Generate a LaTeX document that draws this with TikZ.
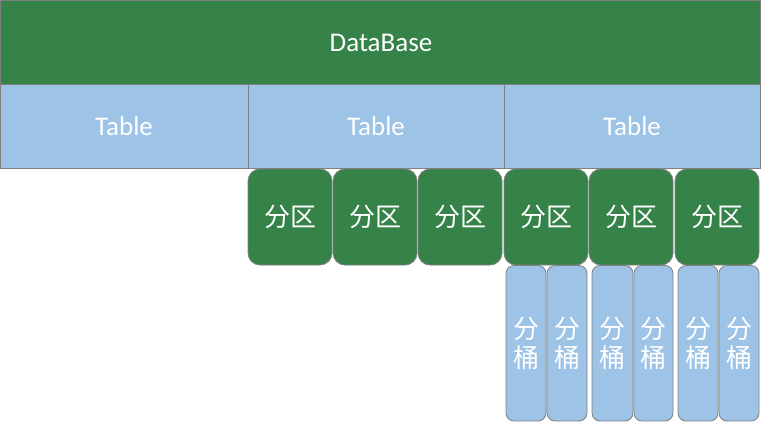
\documentclass[tikz,border=0pt]{standalone}
\usepackage{fontspec}
\setmainfont{Carlito}
\newfontfamily\cjk{Noto Sans CJK SC}
\definecolor{dbgreen}{HTML}{36834A}
\definecolor{tblue}{HTML}{9DC3E6}
\definecolor{edgegray}{HTML}{7F7F7F}
\tikzset{
  dbbox/.style={draw=edgegray, line width=1pt, fill=dbgreen},
  tablebox/.style={draw=edgegray, line width=1pt, fill=tblue},
  partbox/.style={draw=edgegray, line width=0.8pt, fill=dbgreen, rounded corners=12pt},
  bucketbox/.style={draw=edgegray, line width=0.8pt, fill=tblue, rounded corners=8pt},
  latintext/.style={text=white, font=\fontsize{27}{32}\selectfont},
  cjktext/.style={text=white, font=\cjk\fontsize{26}{29}\selectfont, align=center}
}
\begin{document}
\begin{tikzpicture}[x=1pt,y=-1pt]
\useasboundingbox (0,0) rectangle (762,426);
% DataBase
\draw[dbbox] (0.5,0.5) rectangle (760,84.5);
\node[latintext] (db) at (381,43) {DataBase};
% Tables
\draw[tablebox] (0.5,84.5) rectangle (248,168);
\draw[tablebox] (248,84.5) rectangle (504,168);
\draw[tablebox] (504,84.5) rectangle (760,168);
\node[latintext] (t1) at (124,126) {Table};
\node[latintext] (t2) at (376,126) {Table};
\node[latintext] (t3) at (632,126) {Table};
% Partitions
\foreach \l/\r [count=\i] in {248/332, 333/417, 418/502, 504/588, 589/673, 675/759}{
  \draw[partbox] (\l,169) rectangle (\r,265);
  \node[cjktext] (p\i) at ({(\l+\r)/2},217) {分区};
}
% Buckets
\foreach \l/\r [count=\i] in {506/546, 547/587, 592/633, 634/673, 678/718, 719/759}{
  \draw[bucketbox] (\l,265.5) rectangle (\r,421);
  \node[cjktext] (b\i) at ({(\l+\r)/2},343) {分\\桶};
}
\end{tikzpicture}
\end{document}
